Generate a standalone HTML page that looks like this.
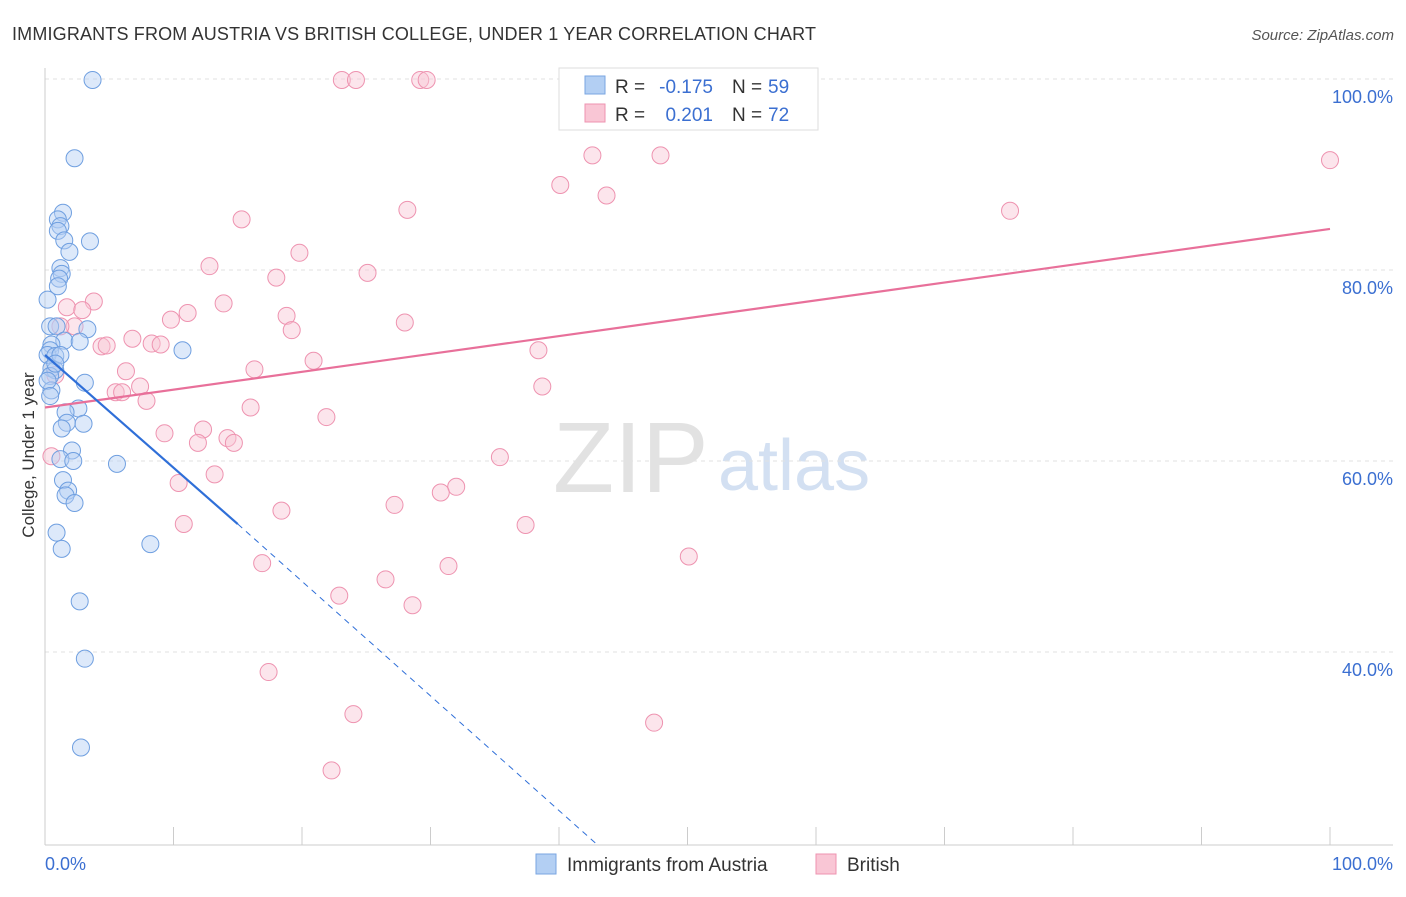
<!DOCTYPE html>
<html><head><meta charset="utf-8"><style>
body{margin:0;background:#fff;font-family:"Liberation Sans",sans-serif;}
svg text{font-family:"Liberation Sans",sans-serif;}
</style></head><body>
<svg id="chart" width="1406" height="892">
<text x="12" y="40" font-size="18" textLength="804" fill="#333">IMMIGRANTS FROM AUSTRIA VS BRITISH COLLEGE, UNDER 1 YEAR CORRELATION CHART</text>
<text x="1394" y="40" font-size="15" fill="#555" text-anchor="end" font-style="italic">Source: ZipAtlas.com</text>
<text x="553" y="492" font-size="100" fill="#e2e2e2" font-family="Liberation Serif">ZIP</text>
<text x="718" y="490" font-size="72" fill="#d3e0f2">atlas</text>
<g id="grid"></g><g id="marks"></g>
<text transform="translate(34,455) rotate(-90)" font-size="17" fill="#333" text-anchor="middle">College, Under 1 year</text>
<text x="45" y="870" font-size="18" fill="#3b6fd1">0.0%</text>
<text x="1393" y="870" font-size="18" fill="#3b6fd1" text-anchor="end">100.0%</text>
<g>
<rect x="559" y="68" width="259" height="62" fill="#fff" stroke="#ddd"/>
<rect x="585" y="76" width="20" height="18" fill="#b3cff3" stroke="#7aa6e2"/>
<rect x="585" y="104" width="20" height="18" fill="#f9c6d5" stroke="#ee93b0"/>
<text x="615" y="93" font-size="19" fill="#333">R =</text>
<text x="713" y="93" font-size="19" fill="#3b6fd1" text-anchor="end">-0.175</text>
<text x="732" y="93" font-size="19" fill="#333">N =</text>
<text x="768" y="93" font-size="19" fill="#3b6fd1">59</text>
<text x="615" y="121" font-size="19" fill="#333">R =</text>
<text x="713" y="121" font-size="19" fill="#3b6fd1" text-anchor="end">0.201</text>
<text x="732" y="121" font-size="19" fill="#333">N =</text>
<text x="768" y="121" font-size="19" fill="#3b6fd1">72</text>
</g>
<g>
<rect x="536" y="854" width="20" height="20" fill="#b3cff3" stroke="#7aa6e2"/>
<text x="567" y="871" font-size="19" fill="#333">Immigrants from Austria</text>
<rect x="816" y="854" width="20" height="20" fill="#f9c6d5" stroke="#ee93b0"/>
<text x="847" y="871" font-size="19" fill="#333">British</text>
</g>
</svg>
<script>
const yTicks=[100,80,60,40];
const blueX=[3.7,2.3,1.4,1.0,1.2,1.0,1.5,3.5,1.9,1.2,1.3,1.1,1.0,0.2,0.4,0.9,3.3,1.5,2.7,0.5,0.4,0.2,10.7,0.8,1.2,0.5,0.8,0.4,3.1,0.5,2.6,1.6,1.7,3.0,1.3,2.1,1.2,2.2,5.6,1.4,1.8,1.6,2.3,0.9,1.3,8.2,2.7,3.1,2.8,0.2,0.8,0.4];
const blueY=[99.9,91.7,86.0,85.3,84.6,84.1,83.1,83.0,81.9,80.2,79.6,79.1,78.3,76.9,74.1,74.1,73.8,72.6,72.5,72.2,71.6,71.1,71.6,71.0,71.1,69.7,69.5,68.9,68.2,67.4,65.5,65.1,64.0,63.9,63.4,61.1,60.2,60.0,59.7,58.0,56.9,56.4,55.6,52.5,50.8,51.3,45.3,39.3,30.0,68.4,70.2,66.8];
const pinkX=[23.1,24.2,29.2,29.7,52.0,42.6,47.9,100,40.1,43.7,28.2,75.1,15.3,19.8,12.8,25.1,18.0,3.8,1.7,2.9,13.9,11.1,9.8,18.8,19.2,28.0,6.8,4.4,4.8,8.3,9.0,2.3,1.2,20.9,38.4,16.3,6.3,5.5,6.0,7.4,7.9,38.7,16.0,21.9,9.3,12.3,14.2,14.7,11.9,13.2,10.4,35.4,32.0,30.8,27.2,18.4,10.8,37.4,50.1,16.9,31.4,26.5,22.9,28.6,17.4,24.0,47.4,22.3,0.5,0.8];
const pinkY=[99.9,99.9,99.9,99.9,99.9,92.0,92.0,91.5,88.9,87.8,86.3,86.2,85.3,81.8,80.4,79.7,79.2,76.7,76.1,75.8,76.5,75.5,74.8,75.2,73.7,74.5,72.8,72.0,72.1,72.3,72.2,74.1,74.1,70.5,71.6,69.6,69.4,67.2,67.2,67.8,66.3,67.8,65.6,64.6,62.9,63.3,62.4,61.9,61.9,58.6,57.7,60.4,57.3,56.7,55.4,54.8,53.4,53.3,50.0,49.3,49.0,47.6,45.9,44.9,37.9,33.5,32.6,27.6,60.5,69.0];
const X=v=>45+v*12.85, Y=v=>79+(100-v)*9.55;
const ns="http://www.w3.org/2000/svg";
const g=document.getElementById('grid'),m=document.getElementById('marks');
function mk(p,tag,a){const e=document.createElementNS(ns,tag);for(const k in a)e.setAttribute(k,a[k]);p.appendChild(e);return e;}
yTicks.forEach(t=>{
 const l=mk(g,'line',{x1:45,x2:1393,y1:Y(t),y2:Y(t),stroke:'#e2e2e2','stroke-dasharray':'4,4'});
 
 
 const tx=mk(g,'text',{x:1393,y:Y(t)+24,'font-size':18,fill:'#3b6fd1','text-anchor':'end'});tx.textContent=t.toFixed(1)+'%';
 
 
});
mk(g,'line',{x1:45,x2:45,y1:68,y2:845,stroke:'#ccc'});
mk(g,'line',{x1:45,x2:1393,y1:845,y2:845,stroke:'#ccc'});
for(let i=1;i<=10;i++){mk(g,'line',{x1:X(i*10),x2:X(i*10),y1:827,y2:845,stroke:'#ccc'});}
function dots(xs,ys,fill,stroke,name){xs.forEach((v,i)=>{
 const c=mk(m,'circle',{cx:X(v),cy:Y(ys[i]),r:8.5,fill:fill,'fill-opacity':0.45,stroke:stroke,'stroke-width':1});
 
 
});}
dots(pinkX,pinkY,'#f9c6d5','#ee93b0','british-point');
dots(blueX,blueY,'#b3cff3','#6f9fe0','austria-point');
const pl=mk(m,'line',{x1:X(0),y1:Y(65.6),x2:X(100),y2:Y(84.3),stroke:'#e8709a','stroke-width':2.2});


const bl=mk(m,'line',{x1:X(0),y1:Y(71.1),x2:X(15),y2:Y(53.4),stroke:'#2f6fd8','stroke-width':2.2});


const bd=mk(m,'line',{x1:X(15),y1:Y(53.4),x2:X(43),y2:Y(19.8),stroke:'#2f6fd8','stroke-width':1,'stroke-dasharray':'6,5'});


</script>
</body></html>
